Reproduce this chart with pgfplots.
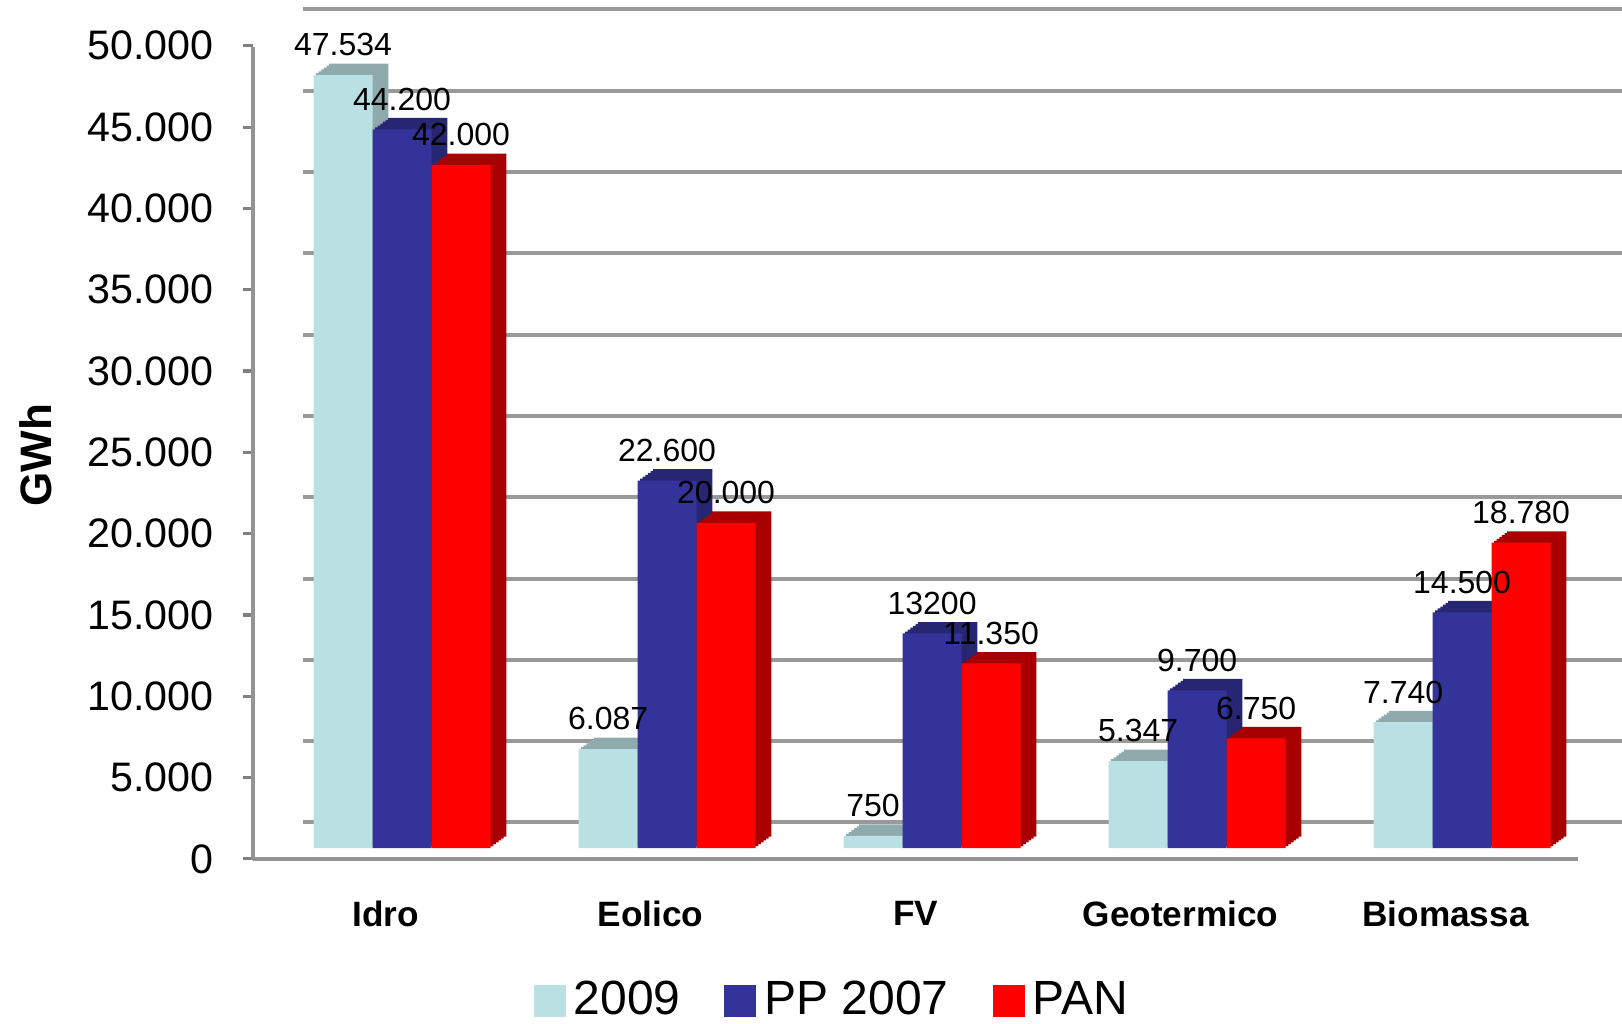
\documentclass[border=0pt]{standalone}
\usepackage{pgfplots}
\pgfplotsset{compat=1.18}
\usepackage{fontspec}
\setmainfont{Liberation Sans}

\definecolor{c09}{RGB}{185,224,227}
\definecolor{c09d}{RGB}{143,170,173}
\definecolor{cpp}{RGB}{51,51,153}
\definecolor{cppd}{RGB}{38,38,115}
\definecolor{cpan}{RGB}{255,0,0}
\definecolor{cpand}{RGB}{168,0,0}

% fake 3D: shifted copies of each bar drawn behind it
\tikzset{
  fakethreed/.style={
    preaction={fill=#1, draw=none, transform canvas={shift={(0.65pt,0.475pt)}}},
    preaction={fill=#1, draw=none, transform canvas={shift={(1.3pt,0.95pt)}}},
    preaction={fill=#1, draw=none, transform canvas={shift={(1.95pt,1.425pt)}}},
    preaction={fill=#1, draw=none, transform canvas={shift={(2.6pt,1.9pt)}}},
    preaction={fill=#1, draw=none, transform canvas={shift={(3.25pt,2.375pt)}}},
    preaction={fill=#1, draw=none, transform canvas={shift={(3.9pt,2.85pt)}}},
  },
}

\begin{document}
\begin{tikzpicture}
\begin{axis}[
  name=ax,
  scale only axis,
  width=331.25pt, height=206pt,
  ybar, bar width=14.8pt,
  xmin=-0.5, xmax=4.5,
  ymin=-676, ymax=50000,
  clip=false,
  axis x line*=bottom, axis y line*=left,
  axis line style={draw=gray!85, line width=0.9pt},
  y axis line style={shorten >=3pt},
  tick align=outside, major tick length=2.5pt,
  xtick={0,...,4},
  xticklabels={Idro,Eolico,FV,Geotermico,Biomassa},
  x tick style={draw=none},
  xticklabel style={font=\bfseries\fontsize{8.8}{10}\selectfont, yshift=-4.5pt},
  extra x ticks={-0.5,0.5,...,4.5},
  extra x tick labels={},
  extra x tick style={tick style={draw=gray, line width=0.8pt}},
  scaled y ticks=false,
  ytick={0,5000,...,50000},
  yticklabels={0,5.000,10.000,15.000,20.000,25.000,30.000,35.000,40.000,45.000,50.000},
  y tick style={draw=gray, line width=0.8pt, yshift=-2.7pt},
  yticklabel style={font=\fontsize{10.3}{12}\selectfont, xshift=-3.8pt, yshift=-2.7pt},
  ymajorgrids,
  major grid style={draw=gray!80, line width=1pt, shift={(12.5pt,6.4pt)}},
  ylabel={GWh},
  every axis y label/.style={at={(axis description cs:-0.164,0.49)}, rotate=90, anchor=center,
    font=\bfseries\fontsize{11}{13}\selectfont},
  point meta=explicit symbolic,
  nodes near coords,
  every node near coord/.append style={font=\fontsize{8}{9}\selectfont, inner sep=0pt,
    anchor=south, yshift=4.5pt, text=black},
  legend columns=-1,
  legend style={at={(0.439,-0.172)}, anchor=center, draw=none, fill=none,
    font=\fontsize{12}{14}\selectfont,
    /tikz/every even column/.append style={column sep=9pt}},
  legend image code/.code={\fill[#1] (0pt,-4pt) rectangle (8pt,4pt);},
]
% 2009
\addplot[forget plot, fill=c09, draw=none, bar shift=-10.6pt, fakethreed=c09d]
  coordinates {(0,47534) [47.534] (1,6087) [6.087] (2,750) [750] (3,5347) [5.347] (4,7740) [7.740]};
% PP 2007
\addplot[forget plot, fill=cpp, draw=none, bar shift=4.15pt, fakethreed=cppd]
  coordinates {(0,44200) [44.200] (1,22600) [22.600] (2,13200) [13200] (3,9700) [9.700] (4,14500) [14.500]};
% PAN
\addplot[forget plot, fill=cpan, draw=none, bar shift=18.9pt, fakethreed=cpand]
  coordinates {(0,42000) [42.000] (1,20000) [20.000] (2,11350) [11.350] (3,6750) [6.750] (4,18780) [18.780]};
\addlegendimage{fill=c09, draw=none}
\addlegendimage{fill=cpp, draw=none}
\addlegendimage{fill=cpan, draw=none}
\legend{2009, PP 2007, PAN}
\end{axis}
\pgfresetboundingbox
\path[use as bounding box] ([shift={(-63.25pt,-41pt)}]ax.south west) rectangle ([shift={(11pt,8.75pt)}]ax.north east);
\end{tikzpicture}
\end{document}
